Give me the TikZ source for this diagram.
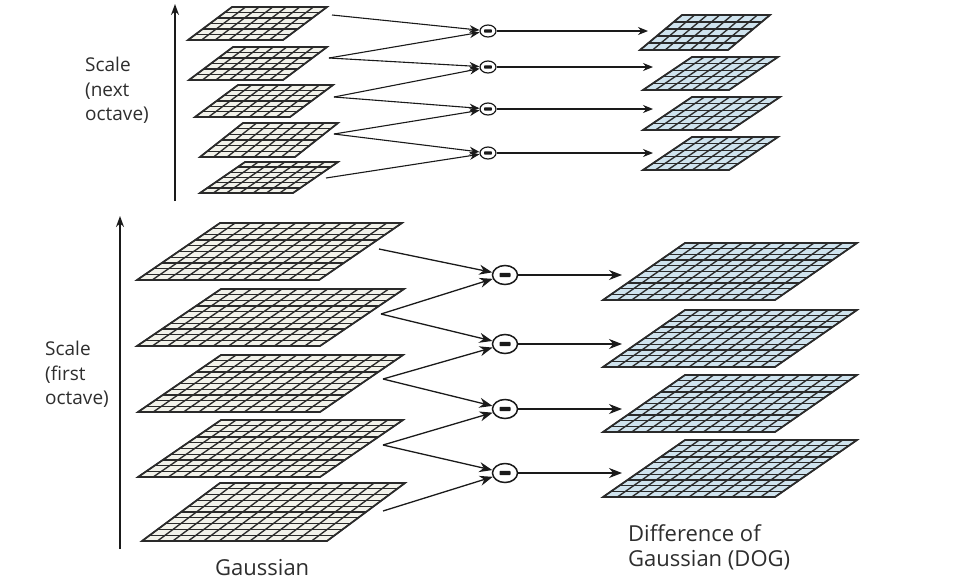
\documentclass[tikz,border=0pt]{standalone}
\usepackage{fontspec}
\setmainfont{Open Sans}
\usetikzlibrary{arrows.meta,shapes.geometric}
\definecolor{gfill}{HTML}{F2F2EA}
\definecolor{dfill}{HTML}{CFE3EE}
\definecolor{gline}{HTML}{2A2A2A}
\definecolor{ink}{HTML}{1A1A1A}
\definecolor{txt}{HTML}{2E2E2E}
\tikzset{
  gridline/.style={draw=gline, line width=1.35pt},
  gridborder/.style={draw=gline, line width=1.7pt, line join=miter},
  bigarr/.style={draw=ink, line width=1.3pt, -{Stealth[length=13pt,width=10pt]}},
  smallarr/.style={draw=ink, line width=1.1pt, -{Stealth[length=10pt,width=8pt]}},
  axisarr/.style={draw=ink, line width=1.5pt, -{Stealth[length=11pt,width=8pt]}},
  mbig/.style={ellipse, draw=ink, line width=1.5pt, fill=white, minimum width=25pt, minimum height=19pt, inner sep=0pt,
    path picture={\fill[ink, rounded corners=0.8pt] ([xshift=-5.5pt,yshift=-2.2pt]path picture bounding box.center) rectangle ++(11pt,4.4pt);}},
  msmall/.style={ellipse, draw=ink, line width=1.2pt, fill=white, minimum width=16pt, minimum height=12pt, inner sep=0pt,
    path picture={\fill[ink, rounded corners=0.6pt] ([xshift=-3.8pt,yshift=-1.6pt]path picture bounding box.center) rectangle ++(7.6pt,3.2pt);}},
  lbl/.style={text=txt, font=\fontsize{19}{24.5}\selectfont, align=left, inner sep=0pt},
  biglbl/.style={text=txt, font=\fontsize{22}{25}\selectfont, align=left, inner sep=0pt},
}
\newcommand{\gridlayer}[8]{%
  \fill[#8] (#1,#2) -- ++(#3,0) -- ++(#5,-#4) -- ++(-#3,0) -- cycle;
  \foreach \i in {0,...,#6}{\draw[gridline] ({#1+\i*#3/#6},#2) -- ++(#5,-#4);}
  \foreach \j in {0,...,#7}{\draw[gridline] ({#1+\j*#5/#7},{#2-\j*#4/#7}) -- ++(#3,0);}
  \draw[gridborder] (#1,#2) -- ++(#3,0) -- ++(#5,-#4) -- ++(-#3,0) -- cycle;
}
\begin{document}
\begin{tikzpicture}[x=1pt,y=-1pt]
\useasboundingbox[fill=white] (0,0) rectangle (961,587);

% ---------- next octave: Gaussian ----------
\gridlayer{188}{40}{95}{33}{44}{7}{6}{gfill}
\gridlayer{189}{80}{94}{33}{44}{7}{6}{gfill}
\gridlayer{195}{117}{95}{32}{43}{7}{6}{gfill}
\gridlayer{200}{157}{95}{34}{43}{7}{6}{gfill}
\gridlayer{200}{193}{93}{31}{45}{7}{6}{gfill}
% ---------- next octave: DOG ----------
\gridlayer{640}{50}{88}{35}{42}{7}{5}{dfill}
\gridlayer{643}{90}{86}{33}{49}{7}{5}{dfill}
\gridlayer{643}{130}{88}{33}{49}{7}{5}{dfill}
\gridlayer{643}{170}{86}{33}{49}{7}{5}{dfill}

% ---------- first octave: Gaussian ----------
\gridlayer{137}{280}{182}{57}{83}{12}{10}{gfill}
\gridlayer{137}{346}{183}{57}{84}{12}{10}{gfill}
\gridlayer{138}{412}{182}{57}{83}{12}{10}{gfill}
\gridlayer{138}{477}{182}{57}{83}{12}{10}{gfill}
\gridlayer{142}{541}{185}{58}{78}{12}{10}{gfill}
% ---------- first octave: DOG ----------
\gridlayer{603}{300}{172}{57}{82}{12}{10}{dfill}
\gridlayer{603}{367}{172}{57}{82}{12}{10}{dfill}
\gridlayer{603}{432}{172}{57}{82}{12}{10}{dfill}
\gridlayer{603}{497}{172}{57}{82}{12}{10}{dfill}

% ---------- axes ----------
\coordinate (axAs) at (175,201); \coordinate (axAe) at (175,4);
\coordinate (axBs) at (120,549); \coordinate (axBe) at (120,216);
\draw[axisarr] (axAs) -- (axAe);
\draw[axisarr] (axBs) -- (axBe);

% ---------- minus operators ----------
\node[msmall] (tc1) at (488,31) {};
\node[msmall] (tc2) at (488,67) {};
\node[msmall] (tc3) at (488,109) {};
\node[msmall] (tc4) at (488,153) {};
\node[mbig] (bc1) at (505,275) {};
\node[mbig] (bc2) at (505,344) {};
\node[mbig] (bc3) at (505,409) {};
\node[mbig] (bc4) at (505,473) {};

% ---------- sources / targets ----------
\coordinate (ts1) at (332,15);
\coordinate (ts2) at (329,58);
\coordinate (ts3) at (334,97);
\coordinate (ts4) at (334,134);
\coordinate (ts5) at (326,178);
\coordinate (td1) at (648,31);
\coordinate (td2) at (653,67);
\coordinate (td3) at (653,109);
\coordinate (td4) at (653,153);

\coordinate (bs1) at (379,249);
\coordinate (bs2) at (381,314);
\coordinate (bs3) at (383,379);
\coordinate (bs4) at (383,445);
\coordinate (bs5) at (383,511);
\coordinate (bd1) at (622,275);
\coordinate (bd2) at (622,344);
\coordinate (bd3) at (622,409);
\coordinate (bd4) at (622,473);

% ---------- arrows: next octave ----------
\draw[smallarr] (ts1) -- (tc1);
\draw[smallarr] (ts2) -- (tc1);
\draw[smallarr] (ts2) -- (tc2);
\draw[smallarr] (ts3) -- (tc2);
\draw[smallarr] (ts3) -- (tc3);
\draw[smallarr] (ts4) -- (tc3);
\draw[smallarr] (ts4) -- (tc4);
\draw[smallarr] (ts5) -- (tc4);
\draw[smallarr] (tc1) -- (td1);
\draw[smallarr] (tc2) -- (td2);
\draw[smallarr] (tc3) -- (td3);
\draw[smallarr] (tc4) -- (td4);

% ---------- arrows: first octave ----------
\draw[bigarr] (bs1) -- (bc1);
\draw[bigarr] (bs2) -- (bc1);
\draw[bigarr] (bs2) -- (bc2);
\draw[bigarr] (bs3) -- (bc2);
\draw[bigarr] (bs3) -- (bc3);
\draw[bigarr] (bs4) -- (bc3);
\draw[bigarr] (bs4) -- (bc4);
\draw[bigarr] (bs5) -- (bc4);
\draw[bigarr] (bc1) -- (bd1);
\draw[bigarr] (bc2) -- (bd2);
\draw[bigarr] (bc3) -- (bd3);
\draw[bigarr] (bc4) -- (bd4);

% ---------- labels ----------
\node[lbl, anchor=north west] (lt) at (85,57) {Scale\\(next\\octave)};
\node[lbl, anchor=north west] (lb) at (45,341) {Scale\\(first\\octave)};
\node[biglbl, anchor=base west] (g) at (215,575) {Gaussian};
\node[biglbl, anchor=north west] (dog) at (628,524) {Difference of\\Gaussian (DOG)};
\end{tikzpicture}
\end{document}
